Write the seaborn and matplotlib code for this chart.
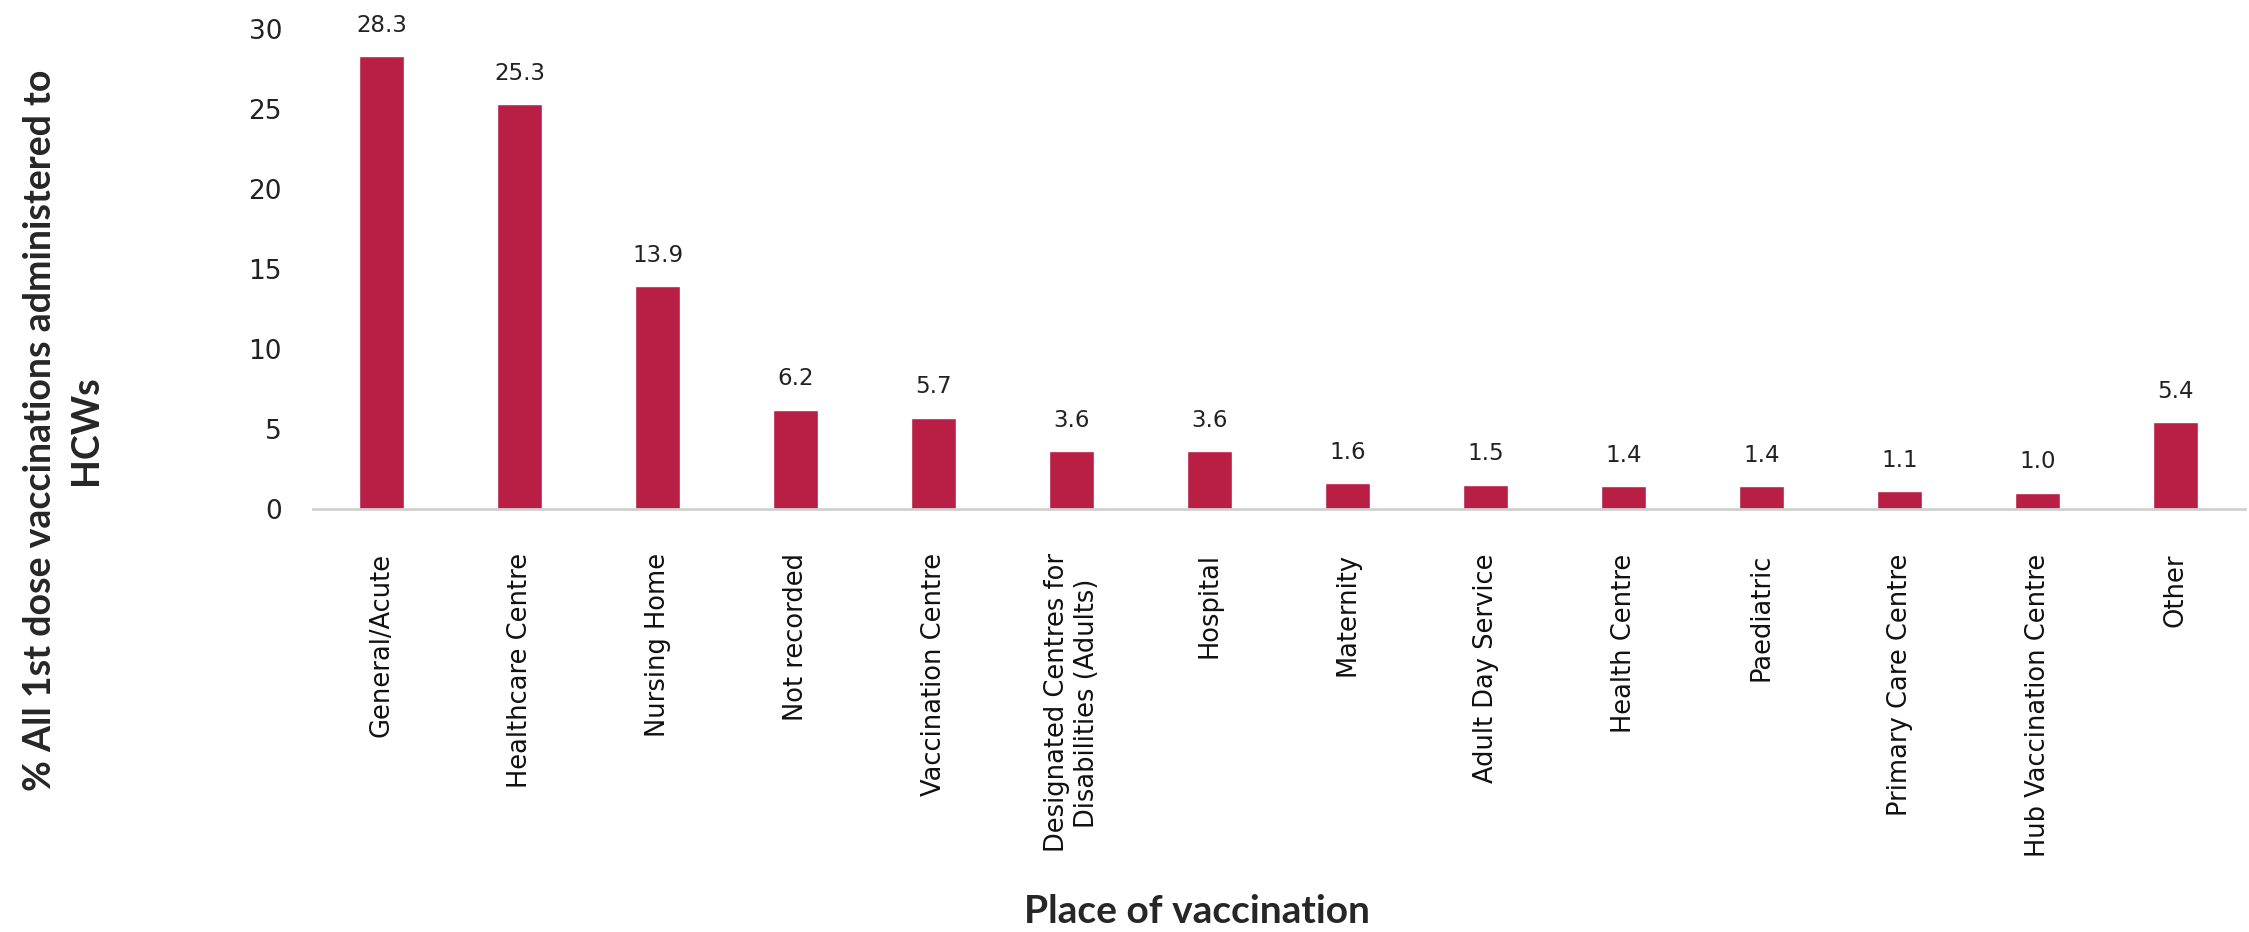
import numpy as np
import pandas as pd
import matplotlib
matplotlib.use("Agg")
import matplotlib.pyplot as plt
import seaborn as sns

# ---------------------------------------------------------------------------
# Data
# ---------------------------------------------------------------------------
places = [
    "General/Acute", "Healthcare Centre", "Nursing Home", "Not recorded",
    "Vaccination Centre", "Designated Centres for\nDisabilities (Adults)",
    "Hospital", "Maternity", "Adult Day Service", "Health Centre",
    "Paediatric", "Primary Care Centre", "Hub Vaccination Centre", "Other",
]
pct = [28.3, 25.3, 13.9, 6.2, 5.7, 3.6, 3.6, 1.6, 1.5, 1.4, 1.4, 1.1, 1.0, 5.4]
y_ticks = [0, 5, 10, 15, 20, 25, 30]

BAR_COLOR = "#B91F45"

df = pd.DataFrame({"place": places, "pct": pct})

sns.set_style("white")
plt.rcParams["font.family"] = ["DejaVu Sans"]

fig = plt.figure(figsize=(22.49, 9.32), dpi=100)
ax = fig.add_axes([0.139, 0.454, 0.859, 0.515])

sns.barplot(data=df, x="place", y="pct", color=BAR_COLOR, width=0.33,
            saturation=1, ax=ax)

# value labels above each bar
for i, v in enumerate(pct):
    ax.annotate(f"{v:.1f}", (i, v), xytext=(0, 14), textcoords="offset points",
                ha="center", va="bottom", fontsize=16.5,
                family=["Liberation Sans Narrow", "DejaVu Sans"], color="#222222")

ax.set_ylim(0, 30)
ax.set_yticks(y_ticks)
ax.set_xlim(-0.5, len(places) - 0.5)
ax.tick_params(axis="y", labelsize=19, length=0, pad=22, colors="#222222")
ax.tick_params(axis="x", labelsize=18.5, length=0, pad=32, rotation=90,
               colors="#111111")
for lbl in ax.get_xticklabels():
    lbl.set_multialignment("center")

for s in ["top", "right", "left"]:
    ax.spines[s].set_visible(False)
ax.spines["bottom"].set_color("#D0D0D0")
ax.spines["bottom"].set_linewidth(2)

ax.set_xlabel(None)
ax.set_ylabel(None)

fig.text(0.028, 0.538, "% All 1st dose vaccinations administered to\nHCWs",
         rotation=90, ha="center", va="center", fontsize=27, fontweight="bold",
         family=["Lato", "DejaVu Sans"], multialignment="center",
         linespacing=1.45)
fig.text(0.532, 0.022, "Place of vaccination", ha="center", va="center",
         fontsize=28, fontweight="bold", family=["Lato", "DejaVu Sans"])

fig.savefig("out.png", dpi=100)
